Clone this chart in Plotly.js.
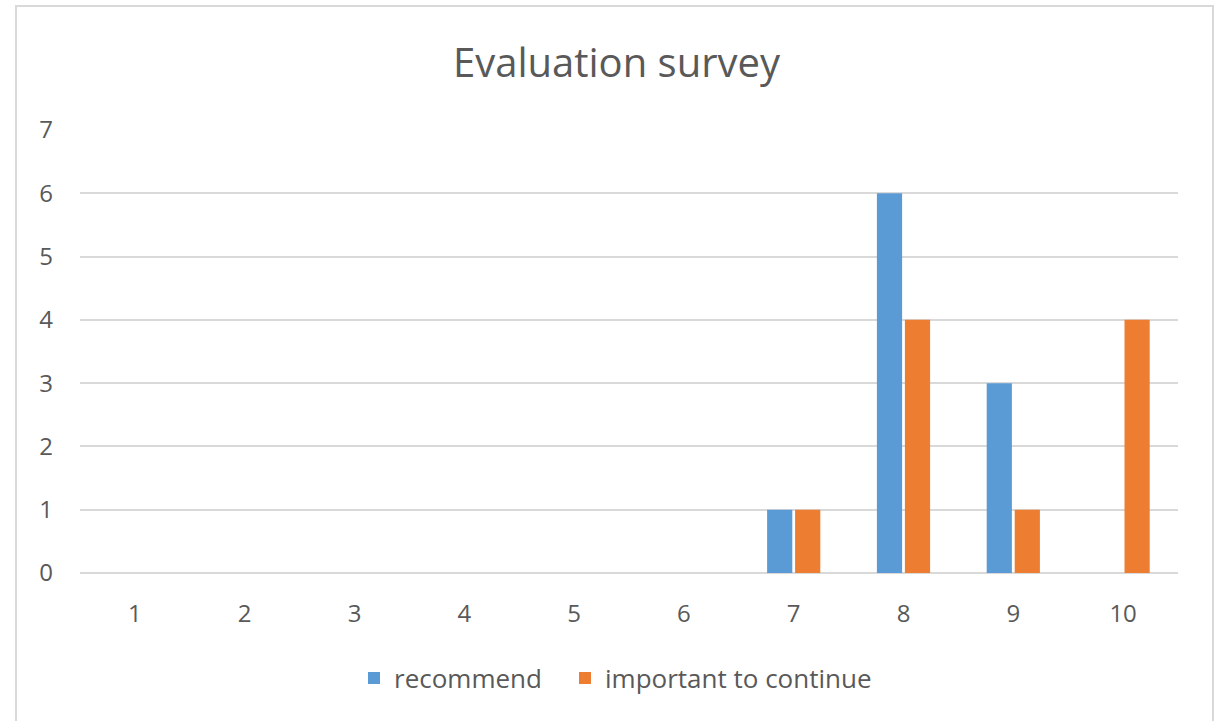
<!DOCTYPE html>
<html>
<head>
<meta charset="utf-8">
<script src="https://cdn.plot.ly/plotly-3.0.1.min.js"></script>
<style>html,body{margin:0;padding:0;background:#fff;}#chart{width:1214px;height:721px;}</style>
</head>
<body>
<div id="chart"></div>
<script>
const categories = ['1','2','3','4','5','6','7','8','9','10'];
const recommend = [0,0,0,0,0,0,1,6,3,0];
const importantToContinue = [0,0,0,0,0,0,1,4,1,4];
const seriesNames = ['recommend','important to continue'];
const yTicks = [0,1,2,3,4,5,6,7];

const fontFam = '"Open Sans", sans-serif';
const traces = [
  {type:'bar', x:categories, y:recommend, name:seriesNames[0], marker:{color:'#5B9BD5'}, hoverinfo:'x+y', legend:'legend'},
  {type:'bar', x:categories, y:importantToContinue, name:seriesNames[1], marker:{color:'#ED7D31'}, hoverinfo:'x+y', legend:'legend2'}
];
const legendBase = {orientation:'h', xanchor:'left', xref:'paper', y:(573-678)/443, yanchor:'middle', font:{size:26, color:'#595959'}, itemwidth:30, bgcolor:'rgba(0,0,0,0)'};
const layout = {
  width:1214, height:721,
  margin:{l:80, r:36, t:130, b:148, autoexpand:false},
  paper_bgcolor:'#fff', plot_bgcolor:'#fff',
  font:{family:fontFam, color:'#595959', size:23},
  title:{text:'Evaluation survey', font:{family:fontFam, size:40, color:'#595959'}, x:(453+780)/2/1214, xanchor:'center', y:1-63/721, yanchor:'middle', xref:'container', yref:'container'},
  barmode:'group', bargap:0.49, bargroupgap:0.1,
  xaxis:{type:'category', showgrid:false, zeroline:false, showline:false, ticks:'', ticklabelstandoff:24, tickfont:{size:24, color:'#595959'}},
  yaxis:{range:[0,7], tickvals:yTicks, showgrid:true, gridcolor:'#d9d9d9', gridwidth:2, zeroline:true, zerolinecolor:'#d9d9d9', zerolinewidth:2, showline:false, ticks:'', ticklabelstandoff:26, tickfont:{size:24, color:'#595959'}},
  legend:Object.assign({}, legendBase, {x:(354-80)/1098}),
  legend2:Object.assign({}, legendBase, {x:(565-80)/1098}),
  shapes:[{type:'rect', xref:'paper', yref:'paper', x0:(16-80)/1098, x1:(1213-80)/1098, y0:(573-740)/443, y1:(573-6)/443, line:{color:'#d9d9d9', width:2}, fillcolor:'rgba(0,0,0,0)', layer:'below'}],
  showlegend:true
};
Plotly.newPlot('chart', traces, layout, {displayModeBar:false, staticPlot:true});
</script>
</body>
</html>
